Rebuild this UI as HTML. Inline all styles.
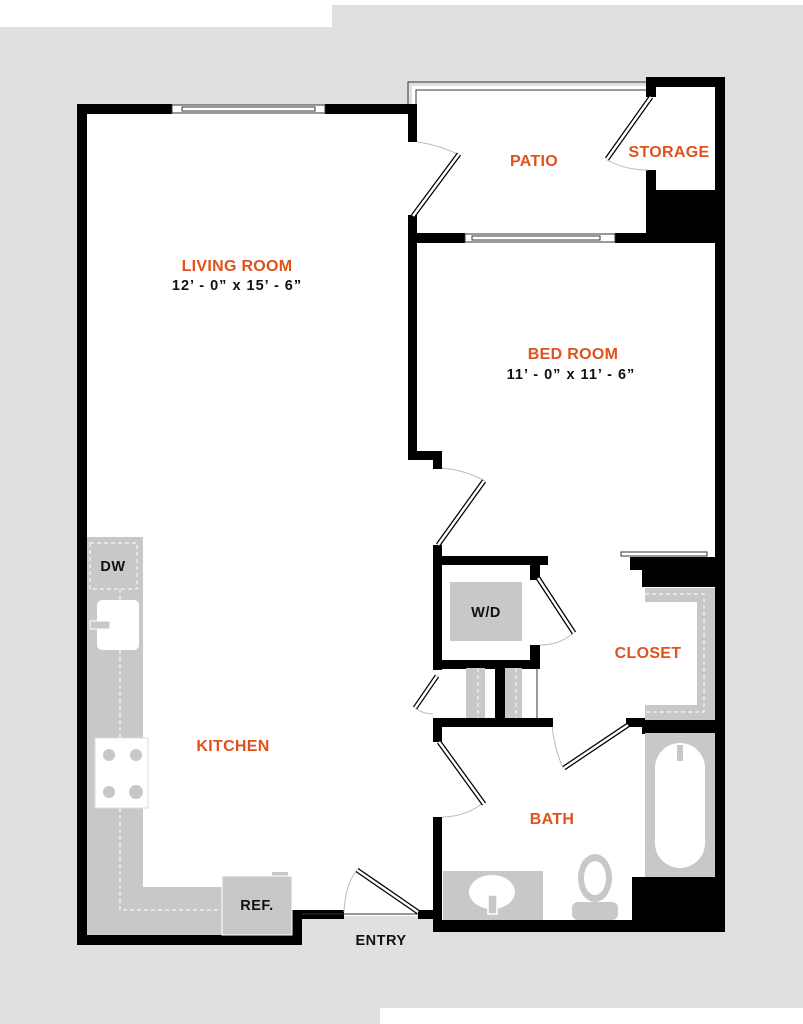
<!DOCTYPE html>
<html><head><meta charset="utf-8"><style>
html,body{margin:0;padding:0;background:#fff;}
svg{display:block;}
text{font-family:"Liberation Sans",sans-serif;font-weight:bold;}
.o{fill:#e0521b;font-size:16px;letter-spacing:0.3px;}
.k{fill:#111;font-size:14.5px;letter-spacing:0.5px;}
.d{letter-spacing:1px;}
</style></head><body>
<svg width="803" height="1024" viewBox="0 0 803 1024" xmlns="http://www.w3.org/2000/svg">
<rect x="0" y="0" width="803" height="1024" fill="#fff"/>
<rect x="0" y="27" width="803" height="981" fill="#e0e0df"/>
<rect x="332" y="5" width="471" height="22" fill="#e0e0df"/>
<rect x="0" y="1008" width="380" height="16" fill="#e0e0df"/>
<polygon points="82,108 412,108 412,460 438,460 438,915 300,915 300,940 82,940" fill="#fff"/>
<polygon points="412,86 652,86 652,240 412,240" fill="#fff"/>
<rect x="652" y="82" width="68" height="110" fill="#fff"/>
<rect x="412" y="238" width="308" height="222" fill="#fff"/>
<rect x="438" y="238" width="282" height="690" fill="#fff"/>
<rect x="300" y="912" width="138" height="4" fill="#fff"/>
<polyline points="408,104 408,82 650,82" fill="none" stroke="#333" stroke-width="1"/>
<polyline points="416,104 416,90 650,90" fill="none" stroke="#333" stroke-width="1"/>
<g fill="#000">
<rect x="77" y="104" width="95" height="10"/>
<rect x="325" y="104" width="92" height="10"/>
<rect x="77" y="104" width="10" height="841"/>
<rect x="77" y="935" width="225" height="10"/>
<rect x="292" y="910" width="10" height="35"/>
<rect x="292" y="910" width="52" height="9"/>
<rect x="418" y="910" width="20" height="9"/>
<rect x="408" y="104" width="9" height="38"/>
<rect x="408" y="215" width="9" height="242"/>
<rect x="408" y="451" width="34" height="9"/>
<rect x="433" y="451" width="9" height="18"/>
<rect x="408" y="233" width="57" height="10"/>
<rect x="615" y="233" width="110" height="10"/>
<rect x="646" y="77" width="79" height="10"/>
<rect x="646" y="77" width="10" height="20"/>
<rect x="646" y="170" width="10" height="30"/>
<rect x="646" y="190" width="79" height="53"/>
<rect x="715" y="77" width="10" height="855"/>
<rect x="433" y="545" width="9" height="125"/>
<rect x="433" y="556" width="115" height="9"/>
<rect x="530" y="556" width="10" height="24"/>
<rect x="530" y="645" width="10" height="23"/>
<rect x="433" y="660" width="107" height="9"/>
<rect x="495" y="668" width="10" height="50"/>
<rect x="433" y="718" width="120" height="9"/>
<rect x="433" y="718" width="9" height="24"/>
<rect x="433" y="817" width="9" height="115"/>
<rect x="433" y="920" width="292" height="12"/>
<rect x="630" y="557" width="90" height="13"/>
<rect x="642" y="565" width="78" height="22"/>
<rect x="626" y="718" width="99" height="9"/>
<rect x="642" y="722" width="78" height="12"/>
<rect x="632" y="877" width="88" height="45"/>
</g>
<g fill="#fff" stroke="#333" stroke-width="1">
<rect x="172" y="105" width="153" height="8"/>
<rect x="182" y="107" width="133" height="4"/>
<rect x="465" y="234" width="150" height="8"/>
<rect x="472" y="236" width="128" height="4"/>
<rect x="621" y="552" width="86" height="4"/>
</g>
<line x1="302" y1="914" x2="418" y2="914" stroke="#333" stroke-width="1"/>
<line x1="537" y1="668" x2="537" y2="718" stroke="#333" stroke-width="1"/>
<g fill="none" stroke="#bbb" stroke-width="1">
<path d="M417,142 Q440,145 459,155"/>
<path d="M607,160 Q625,170 648,170"/>
<path d="M442,468 Q465,470 485,481"/>
<path d="M540,645 Q560,645 573,633"/>
<path d="M415,708 Q423,714 433,714"/>
<path d="M483,803 Q465,817 442,817"/>
<path d="M552,727 Q555,750 563,768"/>
<path d="M344,912 Q345,885 357,870"/>
</g>
<g stroke="#000" stroke-width="5" stroke-linecap="butt">
<line x1="413" y1="216" x2="459" y2="154"/>
<line x1="651" y1="97" x2="607" y2="159"/>
<line x1="438" y1="545" x2="484" y2="481"/>
<line x1="538" y1="578" x2="574" y2="633"/>
<line x1="437" y1="676" x2="415" y2="708"/>
<line x1="439" y1="742" x2="484" y2="804"/>
<line x1="564" y1="768" x2="628" y2="725"/>
<line x1="418" y1="912" x2="357" y2="870"/>
</g>
<g stroke="#fff" stroke-width="2.5">
<line x1="413" y1="216" x2="459" y2="154"/>
<line x1="651" y1="97" x2="607" y2="159"/>
<line x1="438" y1="545" x2="484" y2="481"/>
<line x1="538" y1="578" x2="574" y2="633"/>
<line x1="437" y1="676" x2="415" y2="708"/>
<line x1="439" y1="742" x2="484" y2="804"/>
<line x1="564" y1="768" x2="628" y2="725"/>
<line x1="418" y1="912" x2="357" y2="870"/>
</g>
<g fill="#c8c8c7">
<rect x="87" y="537" width="56" height="398"/>
<rect x="87" y="887" width="135" height="48"/>
<rect x="222" y="876" width="70" height="59"/>
<rect x="272" y="872" width="16" height="4"/>
<rect x="450" y="582" width="72" height="59"/>
<rect x="466" y="668" width="19" height="50"/>
<rect x="505" y="668" width="17" height="50"/>
<rect x="645" y="588" width="70" height="14"/>
<rect x="697" y="588" width="18" height="132"/>
<rect x="645" y="705" width="70" height="15"/>
<rect x="645" y="733" width="70" height="144"/>
<rect x="443" y="871" width="100" height="49"/>
<ellipse cx="595" cy="878" rx="17" ry="24"/>
<rect x="572" y="902" width="46" height="18" rx="6"/>
</g>
<rect x="222" y="876" width="70" height="59" fill="none" stroke="#fff" stroke-width="1"/>
<rect x="655" y="743" width="50" height="125" rx="25" fill="#fff"/>
<rect x="677" y="745" width="6" height="16" fill="#c8c8c7"/>
<ellipse cx="595" cy="878" rx="11" ry="17" fill="#fff"/>
<ellipse cx="492" cy="892" rx="23" ry="17" fill="#fff"/>
<rect x="488" y="895" width="9" height="19" fill="#c8c8c7" stroke="#fff" stroke-width="1.5"/>
<rect x="97" y="600" width="42" height="50" rx="5" fill="#fff"/>
<rect x="90" y="621" width="20" height="8" fill="#c8c8c7" stroke="#fff" stroke-width="1"/>
<rect x="95" y="738" width="53" height="70" fill="#fff" stroke="#ddd"/>
<g fill="#c8c8c7"><circle cx="109" cy="755" r="6"/><circle cx="136" cy="755" r="6"/><circle cx="109" cy="792" r="6"/><circle cx="136" cy="792" r="7"/></g>
<g fill="none" stroke="#fff" stroke-width="1" stroke-dasharray="4,3">
<rect x="90" y="543" width="47" height="46"/>
<line x1="120" y1="589" x2="120" y2="600"/>
<line x1="120" y1="650" x2="120" y2="738"/>
<polyline points="120,808 120,910 222,910"/>
<polyline points="645,594 704,594 704,712 645,712"/>
<line x1="478" y1="668" x2="478" y2="718"/>
<line x1="516" y1="668" x2="516" y2="718"/>
</g>
<text class="o" x="237" y="271" text-anchor="middle">LIVING ROOM</text>
<text class="k d" x="237" y="290" text-anchor="middle">12’ - 0” x 15’ - 6”</text>
<text class="o" x="534" y="166" text-anchor="middle">PATIO</text>
<text class="o" x="669" y="157" text-anchor="middle">STORAGE</text>
<text class="o" x="573" y="359" text-anchor="middle">BED ROOM</text>
<text class="k d" x="571" y="379" text-anchor="middle">11’ - 0” x 11’ - 6”</text>
<text class="k" x="486" y="617" text-anchor="middle">W/D</text>
<text class="o" x="648" y="658" text-anchor="middle">CLOSET</text>
<text class="o" x="233" y="751" text-anchor="middle">KITCHEN</text>
<text class="o" x="552" y="824" text-anchor="middle">BATH</text>
<text class="k" x="381" y="945" text-anchor="middle">ENTRY</text>
<text class="k" x="113" y="571" text-anchor="middle">DW</text>
<text class="k" x="257" y="910" text-anchor="middle">REF.</text>
</svg>
</body></html>
